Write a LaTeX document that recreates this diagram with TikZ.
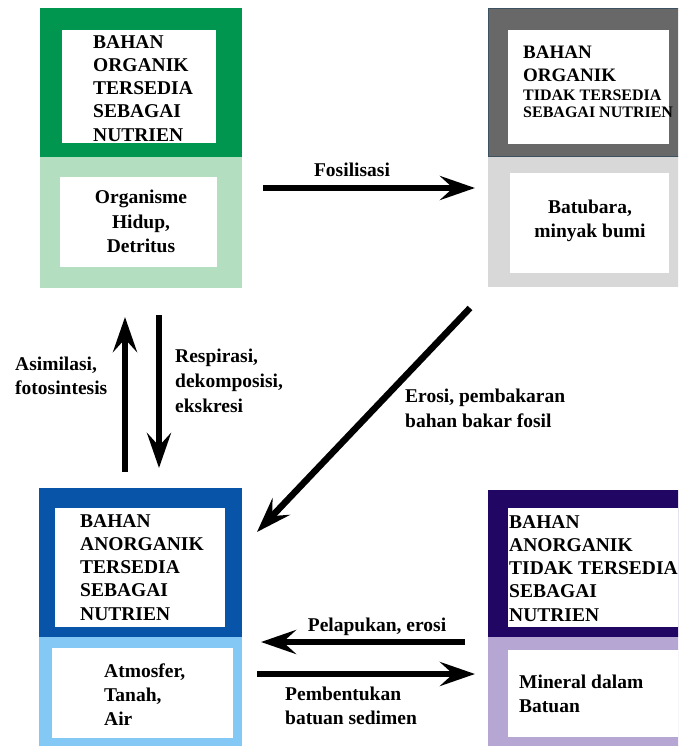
\documentclass[tikz,border=0pt]{standalone}
\usepackage{fontspec}
\setmainfont{Liberation Serif}
\usetikzlibrary{arrows.meta, calc}

\definecolor{orgdark}{RGB}{0,150,80}
\definecolor{orglight}{RGB}{180,222,192}
\definecolor{fosdark}{RGB}{104,104,104}
\definecolor{foslight}{RGB}{216,216,216}
\definecolor{anodark}{RGB}{8,84,168}
\definecolor{anolight}{RGB}{132,200,245}
\definecolor{mindark}{RGB}{34,6,100}
\definecolor{minlight}{RGB}{182,166,212}

\begin{document}
\begin{tikzpicture}[x=1pt, y=-1pt,
	panel/.style={anchor=north west, inner sep=0pt, outer sep=0pt},
	boxtext/.style={font=\bfseries\fontsize{19.5}{23.3}\selectfont, inner sep=0pt, align=left, anchor=north west, text=black},
	bigarrow/.style={line width=6.5pt, -{Stealth[length=35pt, width=24pt, inset=13pt]}}
	]
\useasboundingbox (0,0) rectangle (678,746);
\clip (0,0) rectangle (678,746);

% top left
\node[panel, fill=orgdark, minimum width=202pt, minimum height=149pt] (orgtop) at (40,8) {};
\node[panel, fill=orglight, minimum width=202pt, minimum height=131pt] (orgbot) at (40,157) {};
\node[panel, fill=white, minimum width=154pt, minimum height=113pt] (orgtopin) at (62,30) {};
\node[panel, fill=white, minimum width=157pt, minimum height=90pt] (orgbotin) at (60,177) {};

% top right
\node[panel, fill=fosdark, draw={rgb,255:red,60;green,82;blue,96}, line width=1pt, minimum width=210pt, minimum height=148pt] (fostop) at (488,9) {};
\node[panel, fill=foslight, minimum width=210pt, minimum height=130pt] (fosbot) at (488,157) {};
\node[panel, fill=white, minimum width=161pt, minimum height=114pt] (fostopin) at (508,30) {};
\node[panel, fill=white, minimum width=159pt, minimum height=100pt] (fosbotin) at (510,173) {};

% bottom left
\node[panel, fill=anodark, minimum width=203pt, minimum height=149pt] (anotop) at (39,488) {};
\node[panel, fill=anolight, minimum width=203pt, minimum height=120pt] (anobot) at (39,637) {};
\node[panel, fill=white, minimum width=170pt, minimum height=119pt] (anotopin) at (55,508) {};
\node[panel, fill=white, minimum width=181pt, minimum height=90pt] (anobotin) at (52,648) {};

% bottom right
\node[panel, fill=mindark, minimum width=210pt, minimum height=147pt] (mintop) at (488,490) {};
\node[panel, fill=minlight, minimum width=210pt, minimum height=120pt] (minbot) at (488,637) {};
\node[panel, fill=white, minimum width=190pt, minimum height=119pt] (mintopin) at (508,508) {};
\node[panel, fill=white, minimum width=190pt, minimum height=87pt] (minbotin) at (508,650) {};

% box texts
\node[boxtext] (orgtitle) at (93,35) {BAHAN\\ORGANIK\\TERSEDIA\\SEBAGAI\\NUTRIEN};
\node[boxtext, align=center, anchor=north, font=\bfseries\fontsize{19.5}{24.5}\selectfont] (orgitems) at (141,190) {Organisme\\Hidup,\\Detritus};
\node[boxtext, font=\bfseries\fontsize{19}{23}\selectfont] (fostitle) at (523,46) {BAHAN\\ORGANIK};
\node[boxtext, font=\bfseries\fontsize{16}{17}\selectfont] (fostitleb) at (523,89.5) {TIDAK TERSEDIA\\SEBAGAI NUTRIEN};
\node[boxtext, align=center, anchor=north] (fositems) at (590,200) {Batubara,\\minyak bumi};
\node[boxtext] (anotitle) at (80,514) {BAHAN\\ANORGANIK\\TERSEDIA\\SEBAGAI\\NUTRIEN};
\node[boxtext, font=\bfseries\fontsize{19.5}{24}\selectfont] (anoitems) at (104,664) {Atmosfer,\\Tanah,\\Air};
\node[boxtext] (mintitle) at (509,515) {BAHAN\\ANORGANIK\\TIDAK TERSEDIA\\SEBAGAI\\NUTRIEN};
\node[boxtext] (minitems) at (519,675) {Mineral dalam\\Batuan};

% arrow ends
\coordinate (fosA) at (263,188);
\coordinate (fosB) at (475,188);
\coordinate (eroA) at (470,308);
\coordinate (eroB) at (257,532);
\coordinate (asiA) at (125,472);
\coordinate (asiB) at (125,317);
\coordinate (resA) at (159,315);
\coordinate (resB) at (159,468);
\coordinate (pelA) at (465,642);
\coordinate (pelB) at (261,642);
\coordinate (pemA) at (257,674);
\coordinate (pemB) at (475,674);

\foreach \a/\b in {fosA/fosB, eroA/eroB, asiA/asiB, resA/resB, pelA/pelB, pemA/pemB}
\draw[bigarrow] (\a) -- (\b);

% arrow labels
\node[boxtext, anchor=base] (fosl) at (352,176) {Fosilisasi};
\node[boxtext, font=\bfseries\fontsize{19.5}{24}\selectfont] (asil) at (15,357) {Asimilasi,\\fotosintesis};
\node[boxtext, font=\bfseries\fontsize{19.5}{25}\selectfont] (resl) at (175,349) {Respirasi,\\dekomposisi,\\ekskresi};
\node[boxtext, font=\bfseries\fontsize{19.5}{25}\selectfont] (erol) at (405,389) {Erosi, pembakaran\\bahan bakar fosil};
\node[boxtext, anchor=base] (pell) at (377,631) {Pelapukan, erosi};
\node[boxtext] (peml) at (285,687) {Pembentukan\\batuan sedimen};
\end{tikzpicture}
\end{document}
